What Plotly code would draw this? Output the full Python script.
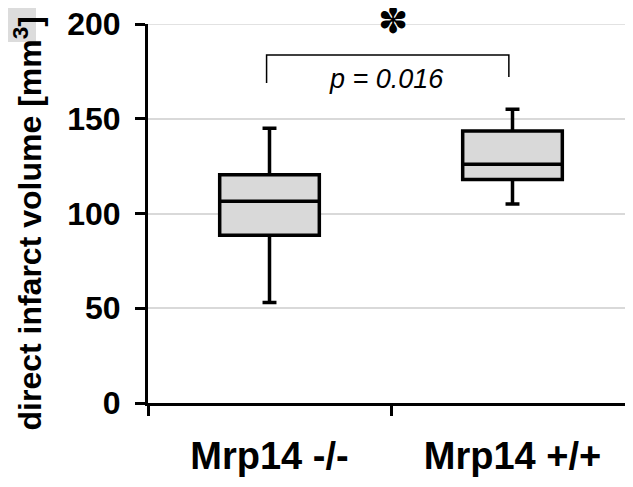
import plotly.graph_objects as go

categories = ["Mrp14 -/-", "Mrp14 +/+"]
lower_whisker = [53, 105]
q1_values = [88.5, 118]
median_values = [106.5, 126]
q3_values = [120.5, 143.5]
upper_whisker = [145, 155]
y_ticks = [0, 50, 100, 150, 200]
y_title = "<b>direct infarct volume [mm<sup>3</sup>]</b>"
p_text = "p = 0.016"
sig_text = "✽"

# page has an 8px body margin; figure coordinates are offset accordingly
L, T, PW, PH = 140, 16, 486, 379
W, H = 633, 487

fig = go.Figure()
fig.add_trace(go.Box(
    x=categories,
    lowerfence=lower_whisker,
    q1=q1_values,
    median=median_values,
    q3=q3_values,
    upperfence=upper_whisker,
    fillcolor="#d9d9d9",
    line=dict(color="black", width=3.5),
    width=0.41,
    whiskerwidth=0.14,
    boxpoints=False,
    showlegend=False,
    hoverinfo="skip",
))

# gridline at the top of the range (plotly drops grid at range end)
fig.add_shape(type="line", xref="paper", yref="y", x0=0, x1=1, y0=200, y1=200,
              line=dict(color="#d9d9d9", width=1.5), layer="below")

# significance bracket
fig.add_shape(type="path", xref="x", yref="y",
              path="M -0.012 168.9 L -0.012 183.6 L 0.985 183.6 L 0.985 172",
              line=dict(color="black", width=1.5))
fig.add_annotation(x=0.48, y=171, xref="x", yref="y", text=p_text, showarrow=False,
                   font=dict(family="Arial", size=27, color="black", style="italic"))
fig.add_annotation(x=0.51, y=1.008, xref="x", yref="paper", text=sig_text, showarrow=False,
                   yanchor="middle",
                   font=dict(family="DejaVu Sans", size=36, color="black"))

# y-axis title as rotated annotation
fig.add_annotation(x=(20 - L) / PW, y=(T + PH - 215.5) / PH, xref="paper", yref="paper",
                   text=y_title, textangle=-90, showarrow=False,
                   xanchor="center", yanchor="middle",
                   font=dict(family="Arial", size=32, color="black"))

# grey box top-left
fig.add_shape(type="rect", xref="paper", yref="paper",
              x0=(-8 - L) / PW, x1=(28 - L) / PW,
              y0=(T + PH - 34) / PH, y1=(T + PH + 8) / PH,
              fillcolor="#dcdcdc", line=dict(width=0), layer="below")

fig.update_layout(
    width=W, height=H,
    margin=dict(l=L, r=W - L - PW, t=T, b=H - T - PH, autoexpand=False),
    plot_bgcolor="white", paper_bgcolor="white",
    font=dict(family="Arial", color="black"),
    xaxis=dict(
        type="category",
        range=[-0.5, 1.5],
        tickson="boundaries",
        ticks="outside", ticklen=10, tickwidth=3, tickcolor="black",
        showline=True, linecolor="black", linewidth=3,
        showgrid=False,
        tickfont=dict(size=38, family="Arial", weight="bold"),
        ticklabelstandoff=17,
        ticklabeloverflow="allow",
        automargin=False,
    ),
    yaxis=dict(
        range=[0, 200],
        tickvals=y_ticks,
        ticks="outside", ticklen=10, tickwidth=3, tickcolor="black",
        showline=True, linecolor="black", linewidth=3,
        showgrid=True, gridcolor="#d9d9d9", gridwidth=1.5,
        zeroline=False,
        tickfont=dict(size=32, family="Arial", weight="bold"),
        ticklabelstandoff=8,
        ticklabeloverflow="allow",
        automargin=False,
    ),
)

fig.write_html("out.html")
